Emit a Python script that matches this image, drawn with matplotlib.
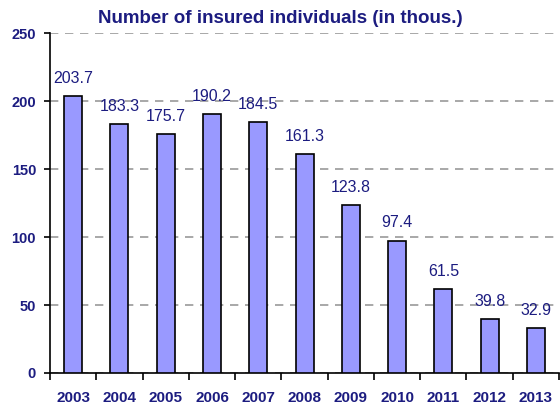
import matplotlib.pyplot as plt
import numpy as np

plt.rcParams['font.family'] = ['Liberation Sans', 'DejaVu Sans']

years = ['2003', '2004', '2005', '2006', '2007', '2008', '2009', '2010', '2011', '2012', '2013']
insured = [203.7, 183.3, 175.7, 190.2, 184.5, 161.3, 123.8, 97.4, 61.5, 39.8, 32.9]

navy = '#1c1c80'

fig = plt.figure(figsize=(5.6, 4.08), dpi=100)
ax = fig.add_axes([0.0893, 0.0858, 0.909, 0.833])

x = np.arange(len(years)) + 0.5
ax.bar(x, insured, width=0.39, color='#9999ff', edgecolor='black', linewidth=1.2, zorder=3)

for xi, v in zip(x, insured):
    ax.text(xi, v + 13, f'{v:.1f}', ha='center', va='center', color=navy,
            fontsize=11.5, zorder=4)

ax.set_xlim(0, len(years))
ax.set_ylim(0, 250)
ax.set_yticks(np.arange(0, 251, 50))
ax.set_xticks(np.arange(0, len(years) + 1))
ax.set_xticklabels([])
ax.set_xticks(x, minor=True)
ax.set_xticklabels(years, minor=True)
ax.tick_params(axis='x', which='major', length=5, width=1.2, direction='out')
ax.tick_params(axis='x', which='minor', length=0, pad=13, labelsize=11, labelcolor=navy)
ax.tick_params(axis='y', length=4, width=1.2, pad=6, labelsize=10.5, labelcolor=navy)
for lab in ax.get_xticklabels(minor=True) + ax.get_yticklabels():
    lab.set_fontweight('bold')

ax.yaxis.grid(True, linestyle=(0, (5, 4)), color='#999999', linewidth=1.2, zorder=0)
for s in ['top', 'right']:
    ax.spines[s].set_visible(False)
for s in ['left', 'bottom']:
    ax.spines[s].set_linewidth(1.2)

fig.text(0.5, 0.955, 'Number of insured individuals (in thous.)', ha='center', va='center',
         color=navy, fontsize=13.5, fontweight='bold')

fig.savefig('out.png', dpi=100)
